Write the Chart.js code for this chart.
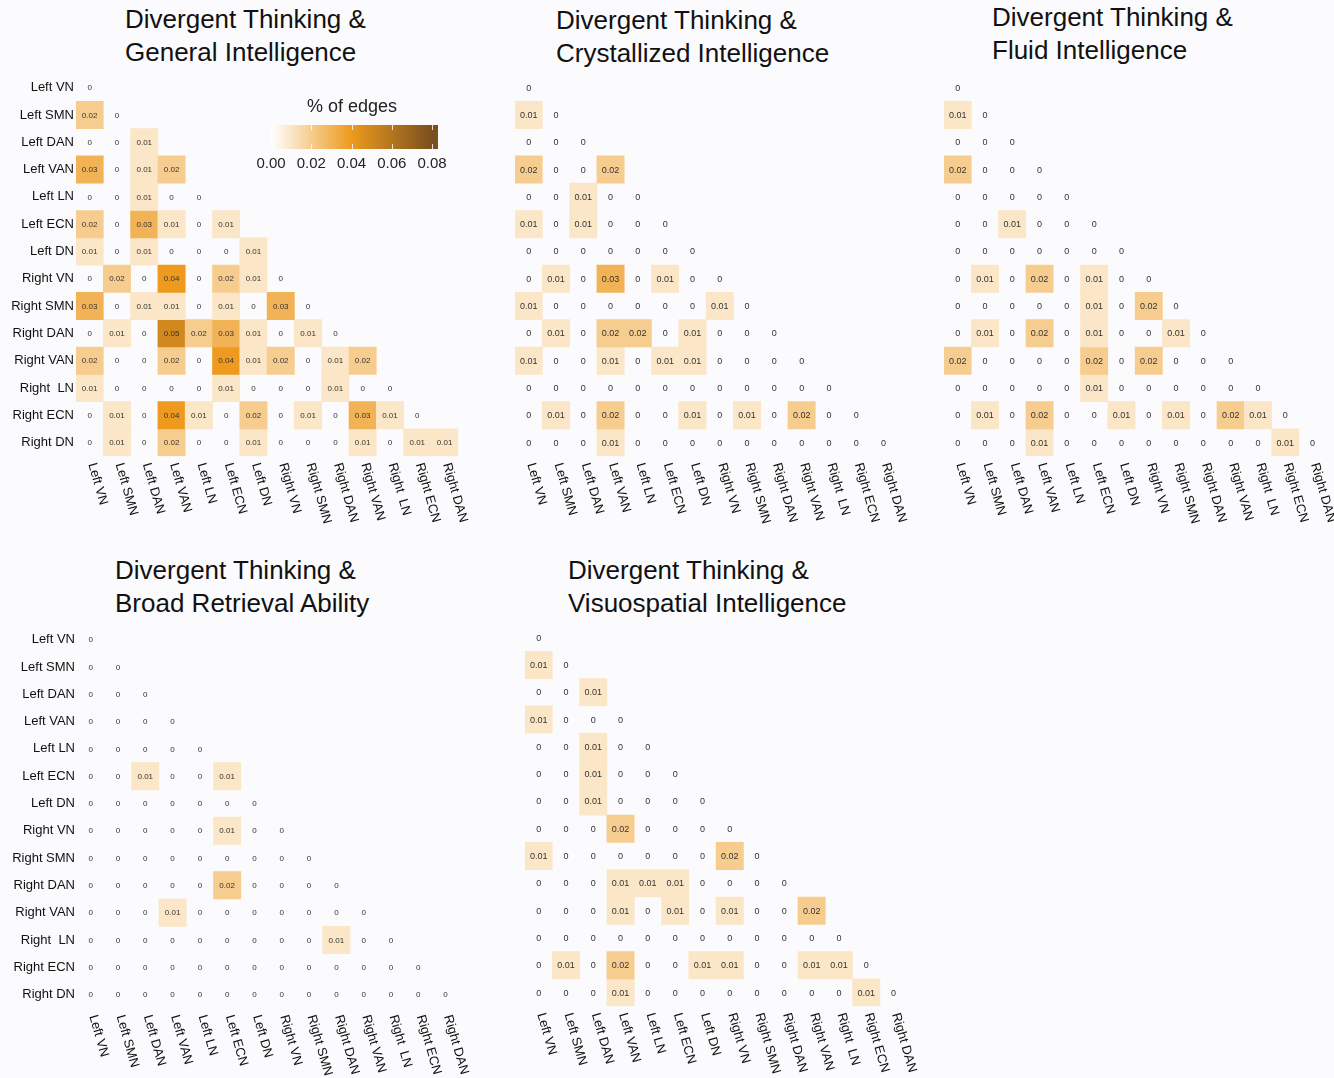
<!DOCTYPE html>
<html>
<head>
<meta charset="utf-8">
<script src="https://cdn.jsdelivr.net/npm/chart.js@4.4.1/dist/chart.umd.min.js"></script>
<style>
  html, body { margin: 0; padding: 0; background: #fbfbfd; }
  body { width: 1334px; height: 1078px; position: relative; overflow: hidden;
         font-family: "Liberation Sans", Arial, sans-serif; }
  .title { position: absolute; font-size: 26px; line-height: 33px; color: #111; white-space: nowrap; }
  canvas { position: absolute; }
</style>
</head>
<body>
<script>
// row / column names (the last column is labelled "Right DAN" in the source figure)
const rowLabels = ['Left VN', 'Left SMN', 'Left DAN', 'Left VAN', 'Left LN', 'Left ECN', 'Left DN',
  'Right VN', 'Right SMN', 'Right DAN', 'Right VAN', 'Right  LN', 'Right ECN', 'Right DN'];
const colLabels = ['Left VN', 'Left SMN', 'Left DAN', 'Left VAN', 'Left LN', 'Left ECN', 'Left DN',
  'Right VN', 'Right SMN', 'Right DAN', 'Right VAN', 'Right  LN', 'Right ECN', 'Right DAN'];

// % of edges, lower triangle, one row per network
const general = [
  [0],
  [0.02, 0],
  [0, 0, 0.01],
  [0.03, 0, 0.01, 0.02],
  [0, 0, 0.01, 0, 0],
  [0.02, 0, 0.03, 0.01, 0, 0.01],
  [0.01, 0, 0.01, 0, 0, 0, 0.01],
  [0, 0.02, 0, 0.04, 0, 0.02, 0.01, 0],
  [0.03, 0, 0.01, 0.01, 0, 0.01, 0, 0.03, 0],
  [0, 0.01, 0, 0.05, 0.02, 0.03, 0.01, 0, 0.01, 0],
  [0.02, 0, 0, 0.02, 0, 0.04, 0.01, 0.02, 0, 0.01, 0.02],
  [0.01, 0, 0, 0, 0, 0.01, 0, 0, 0, 0.01, 0, 0],
  [0, 0.01, 0, 0.04, 0.01, 0, 0.02, 0, 0.01, 0, 0.03, 0.01, 0],
  [0, 0.01, 0, 0.02, 0, 0, 0.01, 0, 0, 0, 0.01, 0, 0.01, 0.01]
];
const crystallized = [
  [0],
  [0.01, 0],
  [0, 0, 0],
  [0.02, 0, 0, 0.02],
  [0, 0, 0.01, 0, 0],
  [0.01, 0, 0.01, 0, 0, 0],
  [0, 0, 0, 0, 0, 0, 0],
  [0, 0.01, 0, 0.03, 0, 0.01, 0, 0],
  [0.01, 0, 0, 0, 0, 0, 0, 0.01, 0],
  [0, 0.01, 0, 0.02, 0.02, 0, 0.01, 0, 0, 0],
  [0.01, 0, 0, 0.01, 0, 0.01, 0.01, 0, 0, 0, 0],
  [0, 0, 0, 0, 0, 0, 0, 0, 0, 0, 0, 0],
  [0, 0.01, 0, 0.02, 0, 0, 0.01, 0, 0.01, 0, 0.02, 0, 0],
  [0, 0, 0, 0.01, 0, 0, 0, 0, 0, 0, 0, 0, 0, 0]
];
const fluid = [
  [0],
  [0.01, 0],
  [0, 0, 0],
  [0.02, 0, 0, 0],
  [0, 0, 0, 0, 0],
  [0, 0, 0.01, 0, 0, 0],
  [0, 0, 0, 0, 0, 0, 0],
  [0, 0.01, 0, 0.02, 0, 0.01, 0, 0],
  [0, 0, 0, 0, 0, 0.01, 0, 0.02, 0],
  [0, 0.01, 0, 0.02, 0, 0.01, 0, 0, 0.01, 0],
  [0.02, 0, 0, 0, 0, 0.02, 0, 0.02, 0, 0, 0],
  [0, 0, 0, 0, 0, 0.01, 0, 0, 0, 0, 0, 0],
  [0, 0.01, 0, 0.02, 0, 0, 0.01, 0, 0.01, 0, 0.02, 0.01, 0],
  [0, 0, 0, 0.01, 0, 0, 0, 0, 0, 0, 0, 0, 0.01, 0]
];
const retrieval = [
  [0],
  [0, 0],
  [0, 0, 0],
  [0, 0, 0, 0],
  [0, 0, 0, 0, 0],
  [0, 0, 0.01, 0, 0, 0.01],
  [0, 0, 0, 0, 0, 0, 0],
  [0, 0, 0, 0, 0, 0.01, 0, 0],
  [0, 0, 0, 0, 0, 0, 0, 0, 0],
  [0, 0, 0, 0, 0, 0.02, 0, 0, 0, 0],
  [0, 0, 0, 0.01, 0, 0, 0, 0, 0, 0, 0],
  [0, 0, 0, 0, 0, 0, 0, 0, 0, 0.01, 0, 0],
  [0, 0, 0, 0, 0, 0, 0, 0, 0, 0, 0, 0, 0],
  [0, 0, 0, 0, 0, 0, 0, 0, 0, 0, 0, 0, 0, 0]
];
const visuospatial = [
  [0],
  [0.01, 0],
  [0, 0, 0.01],
  [0.01, 0, 0, 0],
  [0, 0, 0.01, 0, 0],
  [0, 0, 0.01, 0, 0, 0],
  [0, 0, 0.01, 0, 0, 0, 0],
  [0, 0, 0, 0.02, 0, 0, 0, 0],
  [0.01, 0, 0, 0, 0, 0, 0, 0.02, 0],
  [0, 0, 0, 0.01, 0.01, 0.01, 0, 0, 0, 0],
  [0, 0, 0, 0.01, 0, 0.01, 0, 0.01, 0, 0, 0.02],
  [0, 0, 0, 0, 0, 0, 0, 0, 0, 0, 0, 0],
  [0, 0.01, 0, 0.02, 0, 0, 0.01, 0.01, 0, 0, 0.01, 0.01, 0],
  [0, 0, 0, 0.01, 0, 0, 0, 0, 0, 0, 0, 0, 0.01, 0]
];

const legendTicks = [0, 0.02, 0.04, 0.06, 0.08];
const colorStops = [0, 0.04, 0.08];
const colorRGB = [[255, 255, 255], [238, 154, 30], [122, 80, 30]];

const FONT = '"Liberation Sans", Arial, sans-serif';
const CELL = 27.3;
const GRID = CELL * 14;
const PAD_T = 10, Y_W = 76, X_H = 76, PAD_R = 14;

const panels = [
  { values: general, title: ['Divergent Thinking &', 'General Intelligence'],
    titleX: 125, titleY: 3, gridX: 76, gridY: 74, showY: true, legend: true, fs: 8 },
  { values: crystallized, title: ['Divergent Thinking &', 'Crystallized Intelligence'],
    titleX: 556, titleY: 4, gridX: 515, gridY: 74, showY: false, fs: 9 },
  { values: fluid, title: ['Divergent Thinking &', 'Fluid Intelligence'],
    titleX: 992, titleY: 1, gridX: 944, gridY: 74, showY: false, fs: 9 },
  { values: retrieval, title: ['Divergent Thinking &', 'Broad Retrieval Ability'],
    titleX: 115, titleY: 554, gridX: 77, gridY: 626, showY: true, fs: 8 },
  { values: visuospatial, title: ['Divergent Thinking &', 'Visuospatial Intelligence'],
    titleX: 568, titleY: 554, gridX: 525, gridY: 624, showY: false, fs: 9 }
];

function colorFor(v) {
  let i = 0;
  while (i < colorStops.length - 2 && v > colorStops[i + 1]) i++;
  const t = Math.max(0, Math.min(1, (v - colorStops[i]) / (colorStops[i + 1] - colorStops[i])));
  const a = colorRGB[i], b = colorRGB[i + 1];
  const c = a.map((x, k) => Math.round(x + (b[k] - x) * t));
  return `rgb(${c[0]},${c[1]},${c[2]})`;
}

// value text inside each cell
const cellText = {
  id: 'cellText',
  afterDatasetsDraw(chart, args, opts) {
    const ctx = chart.ctx;
    ctx.save();
    ctx.font = `${opts.size}px ${FONT}`;
    ctx.fillStyle = '#333';
    ctx.textAlign = 'center';
    ctx.textBaseline = 'middle';
    chart.data.datasets.forEach((ds, r) => {
      chart.getDatasetMeta(r).data.forEach((bar, c) => {
        const v = ds.raw[c];
        ctx.fillText(v === 0 ? '0' : v.toFixed(2), bar.x, (bar.y + bar.base) / 2 + 0.5);
      });
    });
    ctx.restore();
  }
};

// slanted column names under the grid
const xLabels = {
  id: 'xLabels',
  afterDraw(chart) {
    const { ctx, chartArea, scales } = chart;
    ctx.save();
    ctx.font = `13px ${FONT}`;
    ctx.fillStyle = '#111';
    ctx.textAlign = 'left';
    ctx.textBaseline = 'middle';
    colLabels.forEach((lab, i) => {
      ctx.save();
      ctx.translate(scales.x.getPixelForValue(i) + 2, chartArea.bottom + 7);
      ctx.rotate(74 * Math.PI / 180);
      ctx.fillText(lab, 0, 0);
      ctx.restore();
    });
    ctx.restore();
  }
};

// colour bar "% of edges" (first panel only)
const colorBar = {
  id: 'colorBar',
  afterDraw(chart, args, opts) {
    if (!opts.show) return;
    const ctx = chart.ctx;
    const ox = opts.ox, oy = opts.oy;
    const x0 = 271 - ox, x1 = 432 - ox, xEnd = 438 - ox, top = 125 - oy, bot = 149 - oy;
    const px = v => x0 + (v / 0.08) * (x1 - x0);
    const grad = ctx.createLinearGradient(x0, 0, xEnd, 0);
    colorStops.forEach(v => grad.addColorStop((px(v) - x0) / (xEnd - x0), colorFor(v)));
    grad.addColorStop(1, colorFor(0.08));
    ctx.save();
    ctx.fillStyle = grad;
    ctx.fillRect(x0, top, xEnd - x0, bot - top);
    ctx.strokeStyle = 'rgba(255,255,255,0.8)';
    ctx.lineWidth = 1;
    legendTicks.slice(1).forEach(v => {
      const x = Math.round(px(v)) + 0.5;
      ctx.beginPath();
      ctx.moveTo(x, top); ctx.lineTo(x, top + 5);
      ctx.moveTo(x, bot - 5); ctx.lineTo(x, bot);
      ctx.stroke();
    });
    ctx.fillStyle = '#222';
    ctx.textAlign = 'center';
    ctx.textBaseline = 'middle';
    ctx.font = `15px ${FONT}`;
    legendTicks.forEach(v => ctx.fillText(v.toFixed(2), px(v), 164 - oy));
    ctx.font = `18px ${FONT}`;
    ctx.fillText('% of edges', 352 - ox, 107 - oy);
    ctx.restore();
  }
};

panels.forEach(p => {
  const t = document.createElement('div');
  t.className = 'title';
  t.style.left = p.titleX + 'px';
  t.style.top = p.titleY + 'px';
  t.innerHTML = p.title.join('<br>');
  document.body.appendChild(t);

  const yW = p.showY ? Y_W : 0;
  const w = Math.round(yW + GRID + PAD_R);
  const h = Math.round(PAD_T + GRID + X_H);
  const left = p.gridX - yW, top = p.gridY - PAD_T;
  const cv = document.createElement('canvas');
  cv.width = w; cv.height = h;
  cv.style.left = left + 'px';
  cv.style.top = top + 'px';
  document.body.appendChild(cv);

  new Chart(cv, {
    type: 'bar',
    data: {
      labels: colLabels,
      datasets: p.values.map((row, r) => ({
        label: rowLabels[r],
        raw: row,
        data: row.map(() => [r - 0.5, r + 0.5]),
        // zero cells blend into the page background
        backgroundColor: row.map(v => (v === 0 ? 'rgba(0,0,0,0)' : colorFor(v))),
        borderWidth: 0,
        grouped: false,
        barPercentage: 1,
        categoryPercentage: 1
      }))
    },
    options: {
      responsive: false,
      animation: false,
      events: [],
      layout: { padding: { top: PAD_T, left: 0, bottom: 0, right: w - yW - GRID } },
      plugins: {
        legend: { display: false },
        tooltip: { enabled: false },
        cellText: { size: p.fs },
        colorBar: { show: !!p.legend, ox: left, oy: top }
      },
      scales: {
        x: {
          type: 'category',
          offset: true,
          grid: { display: false, drawTicks: false },
          border: { display: false },
          ticks: { display: false },
          afterFit: s => { s.height = h - PAD_T - GRID; }
        },
        y: {
          type: 'linear',
          display: p.showY,
          min: -0.5, max: 13.5,
          reverse: true,
          grid: { display: false, drawTicks: false },
          border: { display: false },
          afterBuildTicks: s => { s.ticks = rowLabels.map((_, i) => ({ value: i })); },
          ticks: {
            autoSkip: false,
            padding: 2,
            color: '#111',
            font: { size: 13, family: FONT },
            callback: v => rowLabels[v]
          },
          afterFit: s => { s.width = yW; }
        }
      }
    },
    plugins: [cellText, xLabels, colorBar]
  });
});
</script>
</body>
</html>
